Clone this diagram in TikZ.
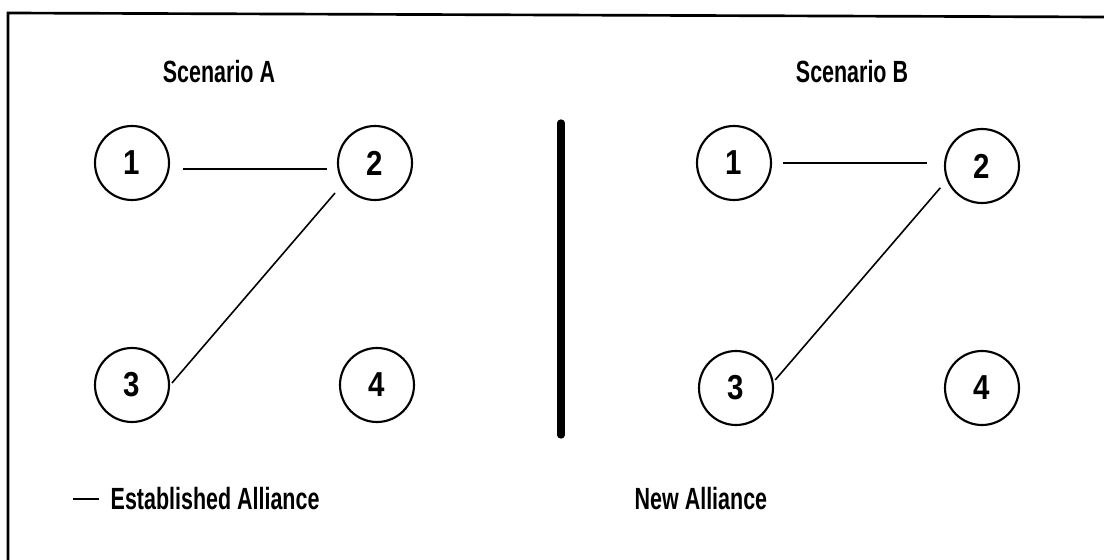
\documentclass[tikz,border=0pt]{standalone}
\usepackage{fontspec}
\setmainfont{Liberation Sans}
\newfontfamily\narrowsans[FakeStretch=0.7]{Liberation Sans}
\newfontfamily\digitsans[FakeStretch=0.85]{Liberation Sans}
\usetikzlibrary{calc}
\begin{document}
\begin{tikzpicture}[x=0.75pt,y=-0.75pt,
  agent/.style={draw,circle,line width=1.6pt,minimum size=55.5pt,inner sep=0pt,
                font=\digitsans\fontsize{26}{30}\selectfont\bfseries},
  title/.style={font=\narrowsans\fontsize{23}{26}\selectfont\bfseries},
  legend/.style={font=\narrowsans\fontsize{23}{26}\selectfont\bfseries,anchor=west},
  tie/.style={line width=1.2pt}]
\useasboundingbox (0,0) rectangle (1104,560);
% frame (only its top and left edges fall inside the page)
\coordinate (ftl) at (8,13);
\coordinate (ftr) at (1104,17);
\coordinate (fbl) at (8,560);
\draw[line width=2pt] (fbl) -- (ftl) -- (ftr);

% Scenario A
\node[title] (tA) at (219,72) {Scenario A};
\node[agent] (A1) at (132,163) {1};
\node[agent] (A2) at (375,163) {2};
\node[agent] (A3) at (132,385) {3};
\node[agent] (A4) at (377,385) {4};
\draw[tie] ($(A1.east)+(13,6)$) -- ($(A2.west)+(-10,6)$);
\draw[tie] ($(A2)+(143.1:50)$) -- ($(A3)+(-2.9:40)$);

% divider
\coordinate (dtop) at (561,123);
\coordinate (dbot) at (561,435);
\draw[line width=5.5pt,line cap=round] (dtop) -- (dbot);

% Scenario B
\node[title] (tB) at (852,72) {Scenario B};
\node[agent] (B1) at (734,163) {1};
\node[agent] (B2) at (982,166) {2};
\node[agent] (B3) at (736,388) {3};
\node[agent] (B4) at (982,388) {4};
\draw[tie] ($(B1.east)+(11,0)$) -- ($(B2.west)+(-17,-3)$);
\draw[tie] ($(B2)+(152.4:47)$) -- ($(B3)+(-11.6:40)$);

% legend
\coordinate (lgA) at (73,499);
\coordinate (lgB) at (99,499);
\draw[tie] (lgA) -- (lgB);
\node[legend] (l1) at (106,499) {Established Alliance};
\node[legend] (l2) at (630,499) {New Alliance};
\end{tikzpicture}
\end{document}
